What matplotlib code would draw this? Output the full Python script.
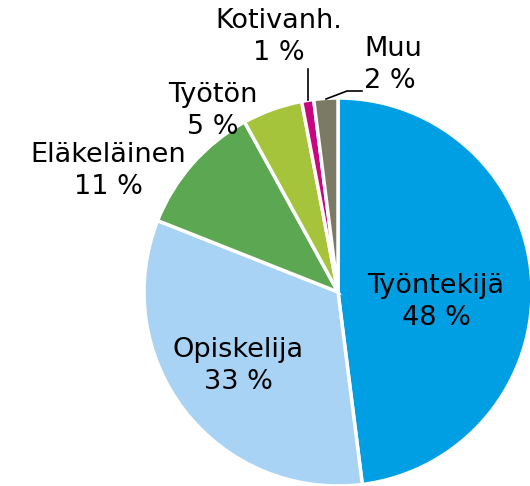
import numpy as np
import matplotlib
matplotlib.use('Agg')
import matplotlib.pyplot as plt

labels = ['Työntekijä', 'Opiskelija', 'Eläkeläinen', 'Työtön', 'Kotivanh.', 'Muu']
shares = [48, 33, 11, 5, 1, 2]
colors = ['#009fe3', '#a9d3f5', '#5ca751', '#a6c43b', '#c8067f', '#7b7a65']

# label anchor points in pixel coords (y from top), and alignment
label_pos = [(436, 302), (238, 366), (108, 171), (213, 111), (279, 37), (364, 65)]
label_ha = ['center', 'center', 'center', 'center', 'center', 'left']

W, H = 530, 486
fig = plt.figure(figsize=(W/100, H/100), dpi=100)
ax = fig.add_axes([0, 0, 1, 1])

cx, cy, r = 338, H - 292, 194
ax.pie(shares, colors=colors, startangle=90, counterclock=False,
       center=(cx, cy), radius=r, frame=True,
       wedgeprops=dict(edgecolor='white', linewidth=2.5))
ax.set_xlim(0, W)
ax.set_ylim(0, H)
ax.set_aspect('equal')
ax.axis('off')

for lab, val, (x, y), ha in zip(labels, shares, label_pos, label_ha):
  ax.text(x, H - y, f'{lab}\n{val} %', ha=ha, va='center',
          multialignment=ha, fontsize=19.5, linespacing=1.3, color='black')

# leader lines
ax.plot([308, 308], [H - 69, H - 100], color='black', lw=1.2)
ax.plot([326, 347, 362], [H - 99, H - 91, H - 91], color='black', lw=1.2)

fig.savefig('out.png', dpi=100)
